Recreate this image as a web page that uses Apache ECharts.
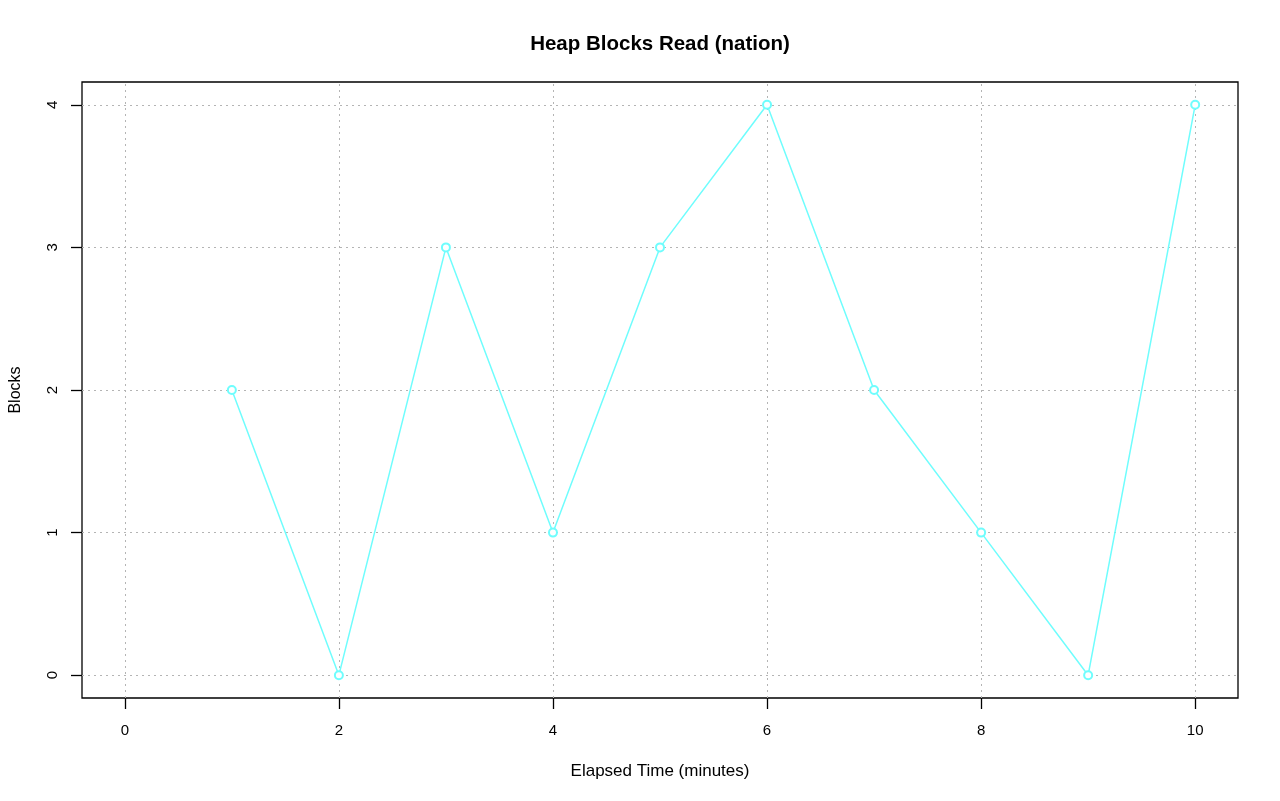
<!DOCTYPE html>
<html>
<head>
<meta charset="utf-8">
<script src="https://cdn.jsdelivr.net/npm/echarts@6/dist/echarts.min.js"></script>
<style>
  html, body { margin: 0; padding: 0; background: #fff; }
  #chart { width: 1280px; height: 801px; }
</style>
</head>
<body>
<div id="chart"></div>
<script>
// data
var minutes = [1, 2, 3, 4, 5, 6, 7, 8, 9, 10];
var blocks = [2, 0, 3, 1, 3, 4, 2, 1, 0, 4];
// tick labels
var xTicks = [0, 2, 4, 6, 8, 10];
var yTicks = [0, 1, 2, 3, 4];

var font = '"Liberation Sans", Arial, sans-serif';
var chart = echarts.init(document.getElementById('chart'));

// dotted grid lines, drawn as markLines so they sit on axis values
var gridLines = [];
xTicks.forEach(function (v) { gridLines.push({ xAxis: v }); });
yTicks.forEach(function (v) { gridLines.push({ yAxis: v }); });

var option = {
  animation: false,
  backgroundColor: '#fff',
  title: {
    text: 'Heap Blocks Read (nation)',
    left: 660,
    top: 34,
    padding: 0,
    textAlign: 'center',
    textStyle: { fontFamily: font, fontSize: 20.5, fontWeight: 'bold', color: '#000' }
  },
  grid: {
    left: 82, right: 42, top: 82, bottom: 103,
    containLabel: false,
    outerBoundsMode: 'none',
    show: true, borderColor: '#000', borderWidth: 1.3, backgroundColor: 'transparent'
  },
  xAxis: {
    type: 'value',
    min: -0.4, max: 10.4,
    name: 'Elapsed Time (minutes)',
    nameLocation: 'middle',
    nameGap: 65,
    nameTextStyle: { fontFamily: font, fontSize: 17, color: '#000' },
    axisLine: { show: false, onZero: false },
    axisTick: { show: true, customValues: xTicks, length: 11, lineStyle: { color: '#000', width: 1.3 } },
    axisLabel: { customValues: xTicks, margin: 25, fontFamily: font, fontSize: 15, color: '#000' },
    splitLine: { show: false }
  },
  yAxis: {
    type: 'value',
    min: -0.16, max: 4.16,
    name: 'Blocks',
    nameLocation: 'middle',
    nameGap: 58,
    nameTextStyle: { fontFamily: font, fontSize: 16, color: '#000' },
    axisLine: { show: false, onZero: false },
    axisTick: { show: true, customValues: yTicks, length: 11, lineStyle: { color: '#000', width: 1.3 } },
    axisLabel: { customValues: yTicks, rotate: 90, margin: 22, fontFamily: font, fontSize: 15, color: '#000' },
    splitLine: { show: false }
  },
  series: [
    {
      type: 'line',
      data: minutes.map(function (m, i) { return [m, blocks[i]]; }),
      symbol: 'emptyCircle',
      symbolSize: 8,
      lineStyle: { color: '#6ffdfd', width: 1.5 },
      itemStyle: { color: '#6ffdfd', borderWidth: 1.5 },
      markLine: {
        silent: true,
        symbol: 'none',
        label: { show: false },
        lineStyle: { color: '#b4b4b4', type: [2, 4], width: 1 },
        data: gridLines,
        z: 1
      },
      z: 3
    }
  ]
};

chart.setOption(option);
</script>
</body>
</html>
